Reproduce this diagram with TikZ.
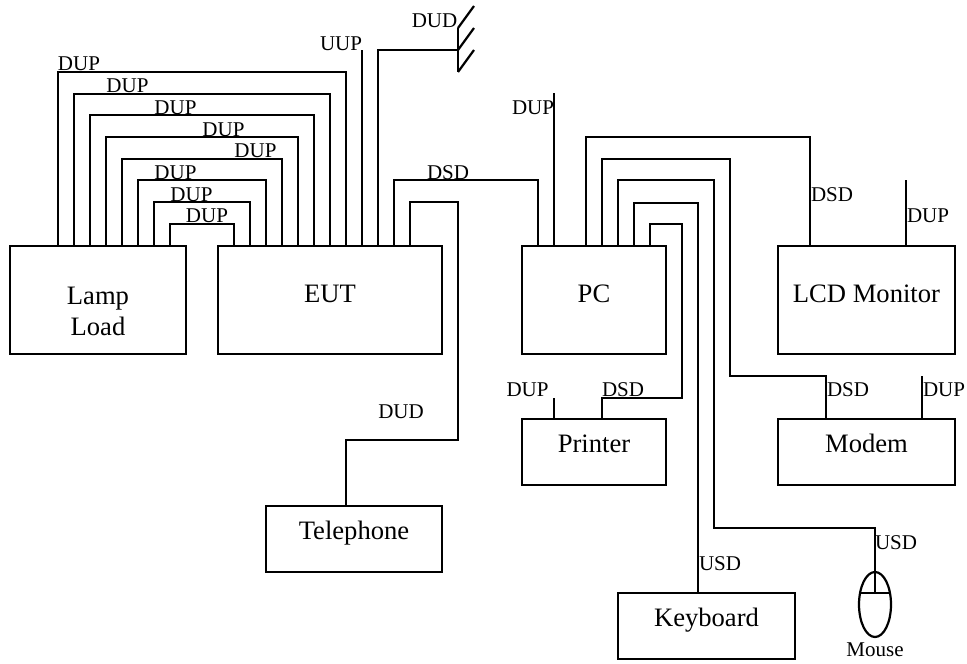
\documentclass[tikz,border=0pt]{standalone}
\usepackage{fontspec}
\setmainfont{Liberation Serif}
\usetikzlibrary{shapes.geometric}
\tikzset{
  unit/.style={draw, line width=1.1pt, inner sep=0pt, font=\fontsize{13.3}{15.5}\selectfont, align=center},
  bigunit/.style={unit, minimum height=54pt, text height=8.8pt, text depth=6pt},
  smallunit/.style={unit, minimum height=33pt, text height=8.8pt, text depth=8.5pt},
  wire/.style={line width=1.1pt},
  lbl/.style={inner sep=0pt, font=\fontsize{10.5}{12}\selectfont, text height=7.9pt, text depth=0pt}
}
\begin{document}
\begin{tikzpicture}[x=0.5pt,y=-0.5pt]
\useasboundingbox (0,0) rectangle (967,663);
% Units
\node[unit, minimum width=88pt, minimum height=54pt, text height=35.5pt] (lamp) at (98,300) {Lamp\\Load};
\node[bigunit, minimum width=112pt] (eut) at (330,300) {EUT};
\node[bigunit, minimum width=72pt] (pc) at (594,300) {PC};
\node[bigunit, minimum width=88.5pt] (lcd) at (866.5,300) {LCD Monitor};
\node[smallunit, minimum width=72pt] (printer) at (594,452) {Printer};
\node[smallunit, minimum width=88.5pt] (modem) at (866.5,452) {Modem};
\node[smallunit, minimum width=88.5pt] (keyboard) at (706.5,626) {Keyboard};
\node[smallunit, minimum width=88pt] (telephone) at (354,539) {Telephone};
\node[draw, ellipse, line width=1.1pt, inner sep=0pt, minimum width=16pt, minimum height=32.5pt] (mouse) at (875,604.5) {};
\node[inner sep=0pt, font=\fontsize{10.5}{12}\selectfont] (mousetext) at (875,650) {Mouse};
% Lamp Load to EUT
\draw[wire] (lamp.north -| 58,0) -- (58,72) -- (346,72) -- (eut.north -| 346,0);
\draw[wire] (lamp.north -| 74,0) -- (74,94) -- (330,94) -- (eut.north -| 330,0);
\draw[wire] (lamp.north -| 90,0) -- (90,115) -- (314,115) -- (eut.north -| 314,0);
\draw[wire] (lamp.north -| 106,0) -- (106,137) -- (298,137) -- (eut.north -| 298,0);
\draw[wire] (lamp.north -| 122,0) -- (122,159) -- (282,159) -- (eut.north -| 282,0);
\draw[wire] (lamp.north -| 138,0) -- (138,180) -- (266,180) -- (eut.north -| 266,0);
\draw[wire] (lamp.north -| 154,0) -- (154,202) -- (250,202) -- (eut.north -| 250,0);
\draw[wire] (lamp.north -| 170,0) -- (170,224) -- (234,224) -- (eut.north -| 234,0);
\node[lbl] (dup1) at (79,63) {DUP};
\node[lbl] (dup2) at (127.5,85) {DUP};
\node[lbl] (dup3) at (175.5,107) {DUP};
\node[lbl] (dup4) at (223.5,129) {DUP};
\node[lbl] (dup5) at (255.5,150) {DUP};
\node[lbl] (dup6) at (175.5,172) {DUP};
\node[lbl] (dup7) at (191.5,194) {DUP};
\node[lbl] (dup8) at (207,215) {DUP};
% EUT free lines and earth
\coordinate (uuptop) at (362,50);
\coordinate (earth) at (458,50);
\draw[wire] (eut.north -| uuptop) -- (uuptop);
\draw[wire] (eut.north -| 378,0) -- (378,50) -- (earth);
\draw[wire] (458,28) -- (458,72);
\draw[wire] (458,28) -- (474,6);
\draw[wire] (earth) -- (474,28);
\draw[wire] (458,72) -- (474,50);
\node[lbl] (uup) at (341,43) {UUP};
\node[lbl] (dudearth) at (434.5,20) {DUD};
% EUT to PC and Telephone
\draw[wire] (eut.north -| 394,0) -- (394,180) -- (538,180) -- (pc.north -| 538,0);
\draw[wire] (eut.north -| 410,0) -- (410,202) -- (458,202) -- (458,440) -- (346,440) -- (telephone.north -| 346,0);
\node[lbl] (dsdeut) at (448,172) {DSD};
\node[lbl] (dudtel) at (401,411) {DUD};
% PC to the others
\coordinate (pcdup) at (554,93);
\draw[wire] (pc.north -| pcdup) -- (pcdup);
\draw[wire] (pc.north -| 586,0) -- (586,137) -- (810,137) -- (lcd.north -| 810,0);
\draw[wire] (pc.north -| 602,0) -- (602,159) -- (730,159) -- (730,376) -- (826,376) -- (modem.north -| 826,0);
\draw[wire] (pc.north -| 618,0) -- (618,180) -- (714,180) -- (714,528) -- (875,528) -- (mouse.north);
\draw[wire] (pc.north -| 634,0) -- (634,203) -- (698,203) -- (keyboard.north -| 698,0);
\draw[wire] (pc.north -| 650,0) -- (650,224) -- (682,224) -- (682,398) -- (602,398) -- (printer.north -| 602,0);
\node[lbl] (dup9) at (533,107) {DUP};
\node[lbl] (dsdlcd) at (832,194) {DSD};
\node[lbl] (dsdprinter) at (623,389) {DSD};
\node[lbl] (dsdmodem) at (848,389) {DSD};
\node[lbl] (usdkey) at (720,563) {USD};
\node[lbl] (usdmouse) at (896,542) {USD};
% Free lines
\coordinate (lcddup) at (906,180);
\coordinate (printerdup) at (554,398);
\coordinate (modemdup) at (922,376);
\draw[wire] (lcd.north -| lcddup) -- (lcddup);
\draw[wire] (printer.north -| printerdup) -- (printerdup);
\draw[wire] (modem.north -| modemdup) -- (modemdup);
\node[lbl] (dup10) at (928,215) {DUP};
\node[lbl] (dup11) at (527.5,389) {DUP};
\node[lbl] (dup12) at (944,389) {DUP};
% Mouse buttons
\draw[wire] (mouse.north) -- (875,593);
\draw[wire] (859,593) -- (891,593);
\end{tikzpicture}
\end{document}
